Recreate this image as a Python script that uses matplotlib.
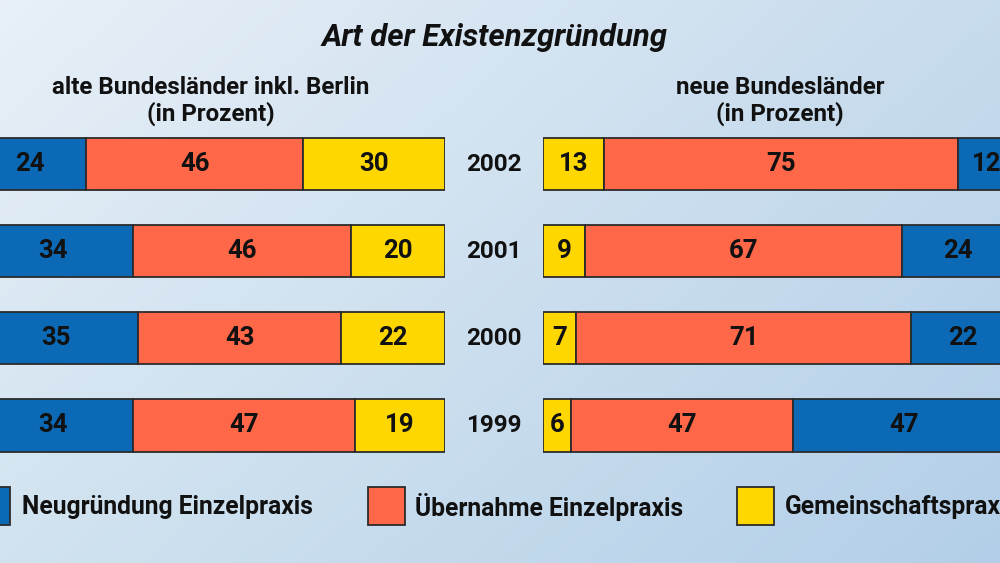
import numpy as np
import matplotlib
matplotlib.use("Agg")
import matplotlib.pyplot as plt
from matplotlib.patches import Rectangle
from matplotlib.transforms import blended_transform_factory

# ---- data ----
years = ["1999", "2000", "2001", "2002"]
series = ["Neugründung Einzelpraxis", "Übernahme Einzelpraxis", "Gemeinschaftspraxis"]
alt_neu = [34, 35, 34, 24]        # Neugründung, alte Länder
alt_ueb = [47, 43, 46, 46]        # Übernahme, alte Länder
alt_gem = [19, 22, 20, 30]        # Gemeinschaftspraxis, alte Länder
neu_neu = [47, 22, 24, 12]        # Neugründung, neue Länder
neu_ueb = [47, 71, 67, 75]        # Übernahme, neue Länder
neu_gem = [6, 7, 9, 13]           # Gemeinschaftspraxis, neue Länder

title = "Art der Existenzgründung"
sub_left = "alte Bundesländer inkl. Berlin\n(in Prozent)"
sub_right = "neue Bundesländer\n(in Prozent)"

# ---- style ----
BLUE = "#0b69b5"
RED = "#fe6747"
YELLOW = "#ffd700"
EDGE = "#2b2b2b"
colors = [BLUE, RED, YELLOW]
plt.rcParams["font.family"] = ["Roboto", "DejaVu Sans"]

W, H = 1000, 563
fig = plt.figure(figsize=(W / 100, H / 100), dpi=100)

# background gradient
bg = fig.add_axes([0, 0, 1, 1], zorder=-10)
tl = np.array([0.91, 0.94, 0.97])
tr = np.array([0.78, 0.86, 0.93])
bl = np.array([0.82, 0.89, 0.94])
br = np.array([0.70, 0.81, 0.91])
u = np.linspace(0, 1, 200)[None, :, None]
v = np.linspace(0, 1, 120)[:, None, None]
img = (1 - v) * ((1 - u) * tl + u * tr) + v * ((1 - u) * bl + u * br)
bg.imshow(img, aspect="auto", extent=[0, 1, 0, 1], interpolation="bilinear")
bg.set_axis_off()

def fx(px):
    return px / W

def fy(py):
    return 1 - py / H

# axes geometry: bar centres 164 (2002) .. 425.5 (1999), spacing 87 px
top_px, bot_px = 120.5, 469.0
ax_b = fy(bot_px)
ax_h = (bot_px - top_px) / H
axL = fig.add_axes([fx(-27), ax_b, 472 / W, ax_h])
axR = fig.add_axes([fx(543), ax_b, 472 / W, ax_h])

ypos = np.arange(len(years))
bh = 0.6

def draw(ax, segs, cols):
    left = np.zeros(len(years))
    for vals, c in zip(segs, cols):
        cont = ax.barh(ypos, vals, left=left, height=bh, color=c,
                       edgecolor=EDGE, linewidth=1.3)
        ax.bar_label(cont, labels=[str(v) for v in vals], label_type="center",
                     fontsize=18.5, fontweight="bold", color="#111111")
        left = left + np.array(vals)
    ax.set_xlim(0, 100)
    ax.set_ylim(-0.5, len(years) - 0.5)
    ax.set_axis_off()
    for t in ax.texts:
        t.set_clip_on(False)

draw(axL, [alt_neu, alt_ueb, alt_gem], [BLUE, RED, YELLOW])
draw(axR, [neu_gem, neu_ueb, neu_neu], [YELLOW, RED, BLUE])

# year labels
tr_y = blended_transform_factory(fig.transFigure, axL.transData)
for i, yr in enumerate(years):
    fig.text(fx(494), ypos[i], yr, transform=tr_y, ha="center", va="center",
             fontsize=17.5, fontweight="bold", color="#111111")

# titles
fig.text(fx(495), fy(37), title, ha="center", va="center", fontsize=22.4,
         fontweight="bold", fontstyle="italic", color="#111111")
fig.text(fx(211), fy(101), sub_left, ha="center", va="center", fontsize=17.4,
         fontweight="bold", color="#111111", linespacing=1.1)
fig.text(fx(780), fy(101), sub_right, ha="center", va="center", fontsize=17.4,
         fontweight="bold", color="#111111", linespacing=1.1)

# legend
leg_sq_x = [-27, 368, 737]
leg_txt_x = [22, 415, 785]
for i, name in enumerate(series):
    fig.patches.append(Rectangle((fx(leg_sq_x[i]), fy(525)), 37 / W, 38 / H,
                                 transform=fig.transFigure, facecolor=colors[i],
                                 edgecolor=EDGE, linewidth=1.3))
    fig.text(fx(leg_txt_x[i]), fy(507), name, ha="left", va="center",
             fontsize=17.7, fontweight="bold", color="#111111")

fig.savefig("out.png", dpi=100)
